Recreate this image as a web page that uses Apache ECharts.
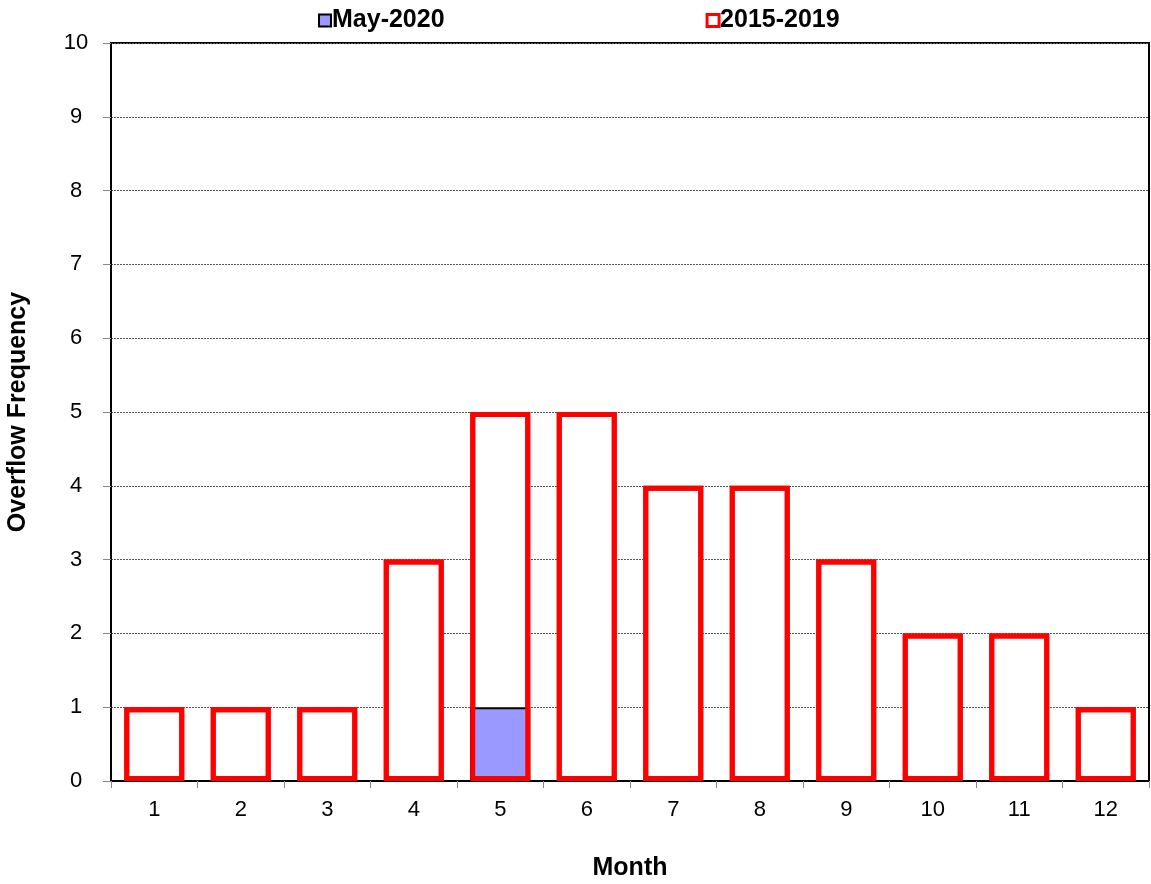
<!DOCTYPE html>
<html><head><meta charset="utf-8">
<script src="https://cdn.jsdelivr.net/npm/echarts@6/dist/echarts.min.js"></script>
<style>html,body{margin:0;padding:0;background:#fff}#c{width:1151px;height:884px}</style>
</head><body><div id="c"></div>
<script>
const months = ['1','2','3','4','5','6','7','8','9','10','11','12'];
const may2020 = [null,null,null,null,1,null,null,null,null,null,null,null];
const base20152019 = [1,1,1,3,5,5,4,4,3,2,2,1];
const yTicks = [0,1,2,3,4,5,6,7,8,9,10];

const chart = echarts.init(document.getElementById('c'));
const F = 'Arial, "Liberation Sans", sans-serif';
chart.setOption({
  animation: false,
  legend: {
    top: 3, left: 313, itemGap: 261, itemWidth: 12, itemHeight: 12, icon: 'rect',
    textStyle: {fontFamily: F, fontWeight: 'bold', fontSize: 25, color: '#000', padding: [0,0,0,-4]},
    data: [
      {name: 'May-2020', itemStyle: {color: '#9999ff', borderColor: '#000', borderWidth: 2}},
      {name: '2015-2019', itemStyle: {color: '#fff', borderColor: '#ff0000', borderWidth: 3}}
    ]
  },
  grid: {left: 111, right: 2, top: 43, bottom: 103, outerBoundsMode: 'none', containLabel: false,
         show: true, borderColor: '#000', borderWidth: 2, backgroundColor: 'transparent'},
  xAxis: {
    type: 'category', data: months,
    name: 'Month', nameLocation: 'middle', nameGap: 75,
    nameTextStyle: {fontFamily: F, fontWeight: 'bold', fontSize: 25, color: '#000'},
    axisLine: {lineStyle: {color: '#000', width: 2}},
    axisTick: {show: true, length: 7, lineStyle: {color: '#888', width: 1}},
    axisLabel: {fontFamily: F, fontSize: 22, color: '#000', margin: 18}
  },
  yAxis: {
    type: 'value', min: 0, max: 10, interval: 1,
    name: 'Overflow Frequency', nameLocation: 'middle', nameGap: 80,
    nameTextStyle: {fontFamily: F, fontWeight: 'bold', fontSize: 25, color: '#000'},
    axisLine: {show: true, lineStyle: {color: '#000', width: 2}},
    axisTick: {show: true, length: 8, lineStyle: {color: '#888', width: 1}},
    axisLabel: {fontFamily: F, fontSize: 22, color: '#000', margin: 35, align: 'center',
      formatter: v => yTicks.includes(v) ? String(v) : ''},
    splitLine: {show: true, lineStyle: {color: '#555', width: 1, type: [2,1]}}
  },
  series: [
    {
      name: '2015-2019', type: 'bar', data: base20152019, barWidth: 60, z: 2,
      itemStyle: {color: '#fff', borderColor: '#ff0000', borderWidth: 5, borderJoin: 'miter'}
    },
    {
      name: 'May-2020', type: 'bar', data: may2020, barWidth: 60, barGap: '-100%', z: 3,
      itemStyle: {color: '#9999ff', borderColor: '#000', borderWidth: 2}
    },
    {
      name: 'outline', type: 'bar', data: base20152019, barWidth: 60, barGap: '-100%', z: 4,
      itemStyle: {color: 'rgba(0,0,0,0)', borderColor: '#ff0000', borderWidth: 5, borderJoin: 'miter'},
      silent: true, legendHoverLink: false
    }
  ]
});
</script></body></html>
